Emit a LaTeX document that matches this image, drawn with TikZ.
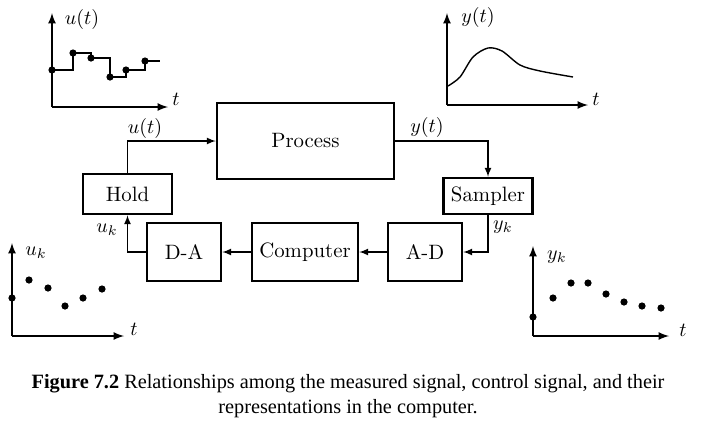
\documentclass[tikz,border=0pt]{standalone}
\usepackage{fontspec}
\newfontfamily\capfont{Liberation Serif}

\begin{document}
\begin{tikzpicture}[x=0.5pt,y=-0.5pt,
  blk/.style={draw,line width=1.25pt,inner sep=0pt,font=\fontsize{10.4}{12}\selectfont},
  sig/.style={line width=0.55pt,-latex},
  ax/.style={line width=0.8pt,-latex}]
\useasboundingbox (0,0) rectangle (701,430);
% blocks
\node[blk,minimum width=88.5pt,minimum height=38pt] (p) at (305.5,141) {Process};
\node[blk,minimum width=44.5pt,minimum height=20pt] (h) at (127.5,194) {Hold};
\node[blk,minimum width=44.5pt,minimum height=18pt] (s) at (488,196) {Sampler};
\node[blk,minimum width=37pt,minimum height=29pt] (da) at (184,252) {D-A};
\node[blk,minimum width=53pt,minimum height=29pt] (c) at (305,252) {Computer};
\node[blk,minimum width=37pt,minimum height=29pt] (ad) at (425,252) {A-D};
% signal paths
\draw[sig] (h.north) |- (p.west);
\draw[sig] (p.east) -| (s.north);
\draw[sig] (s.south) |- (ad.east);
\draw[sig] (ad.west) -- (c.east);
\draw[sig] (c.west) -- (da.east);
\draw[sig] (da.west) -| (h.south);
\node (ut) at (145,128) {$u(t)$};
\node (yt) at (427,127) {$y(t)$};
\node (uk) at (107,230) {$u_k$};
\node (yk) at (503,227) {$y_k$};
% u(t) plot
\draw[ax] (52,107) -- (52,13);
\draw[ax] (52,107) -- (168,107);
\node (lu) at (82,19) {$u(t)$};
\node (tu) at (176,99) {$t$};
\draw[line width=0.7pt] (52,70) -| (73,53) -| (91,58) -| (110,77) -| (126,70) -| (145,61) -- (160,61);
\foreach \p in {(52,70),(73,53),(91,58),(110,77),(126,70),(145,61)}
  \fill \p circle (1.8pt);
% y(t) plot
\draw[ax] (447,105) -- (447,13);
\draw[ax] (447,105) -- (588,105);
\node (ly) at (478,17) {$y(t)$};
\node (ty) at (596,99) {$t$};
\draw[line width=0.7pt] plot[smooth] coordinates {(448,86) (460,77) (473,57) (488,48) (502,51) (520,65) (540,71) (573,77)};
% u_k plot
\draw[ax] (12,336) -- (12,243);
\draw[ax] (12,336) -- (124,336);
\node (luk) at (36,253) {$u_k$};
\node (tuk) at (134,329) {$t$};
\foreach \p in {(12,298),(29,280),(48,288),(65,306),(83,298),(102,289)}
  \fill \p circle (1.8pt);
% y_k plot
\draw[ax] (533,336) -- (533,246);
\draw[ax] (533,336) -- (669,336);
\node (lyk) at (557,257) {$y_k$};
\node (tyk) at (683,330) {$t$};
\foreach \p in {(533,317),(553,298),(571,283),(588,283),(606,294),(624,302),(642,306),(661,308)}
  \fill \p circle (1.8pt);
% caption
\node[font=\capfont\fontsize{10.15}{12.5}\selectfont,align=center] (cap) at (348,396)
  {\textbf{Figure 7.2} Relationships among the measured signal, control signal, and their\\representations in the computer.};
\end{tikzpicture}
\end{document}
